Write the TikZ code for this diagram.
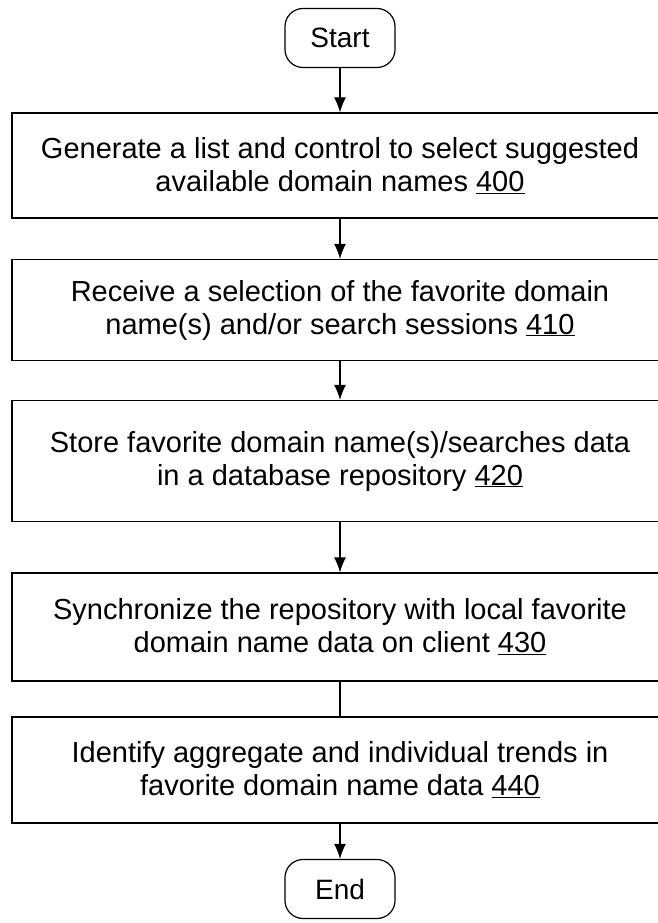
\documentclass[tikz,border=0pt]{standalone}
\usepackage{fontspec}
\setmainfont{Liberation Sans}
\usetikzlibrary{arrows.meta}

\begin{document}
\begin{tikzpicture}[
    x = 1pt, y = -1pt,
    line width = 1.2pt,
    terminal/.style = {draw,
      rounded corners = 18pt,
      minimum width = 110pt,
      minimum height = 59pt,
      font = \fontsize{28}{32}\selectfont},
    action/.style = {draw,
      align = center,
      minimum width = 656pt,
      font = \fontsize{29}{33}\selectfont},
    flow/.style = {-{Latex[length = 15pt, width = 12pt]}},
    ]

    \useasboundingbox (0, 0) rectangle (657, 923);

    \node at (340, 38)
    [terminal, name = start] {Start};

    \node at (340, 165.5)
    [action, minimum height = 105pt, name = list]
    {Generate a list and control to select suggested\\
      available domain names \underline{400}};

    \node at (340, 310)
    [action, minimum height = 101pt, name = select]
    {Receive a selection of the favorite domain\\
      name(s) and/or search sessions \underline{410}};

    \node at (340, 461)
    [action, minimum height = 121pt, name = store]
    {Store favorite domain name(s)/searches data\\
      in a database repository \underline{420}};

    \node at (340, 627)
    [action, minimum height = 108pt, name = sync]
    {Synchronize the repository with local favorite\\
      domain name data on client \underline{430}};

    \node at (340, 770)
    [action, minimum height = 106pt, name = trends]
    {Identify aggregate and individual trends in\\
      favorite domain name data \underline{440}};

    \node at (340, 889)
    [terminal, name = end] {End};

    \draw [flow] (start) to (list);
    \draw [flow] (list) to (select);
    \draw [flow] (select) to (store);
    \draw [flow] (store) to (sync);
    \draw (sync) to (trends);
    \draw [flow] (trends) to (end);
  \end{tikzpicture}
\end{document}
